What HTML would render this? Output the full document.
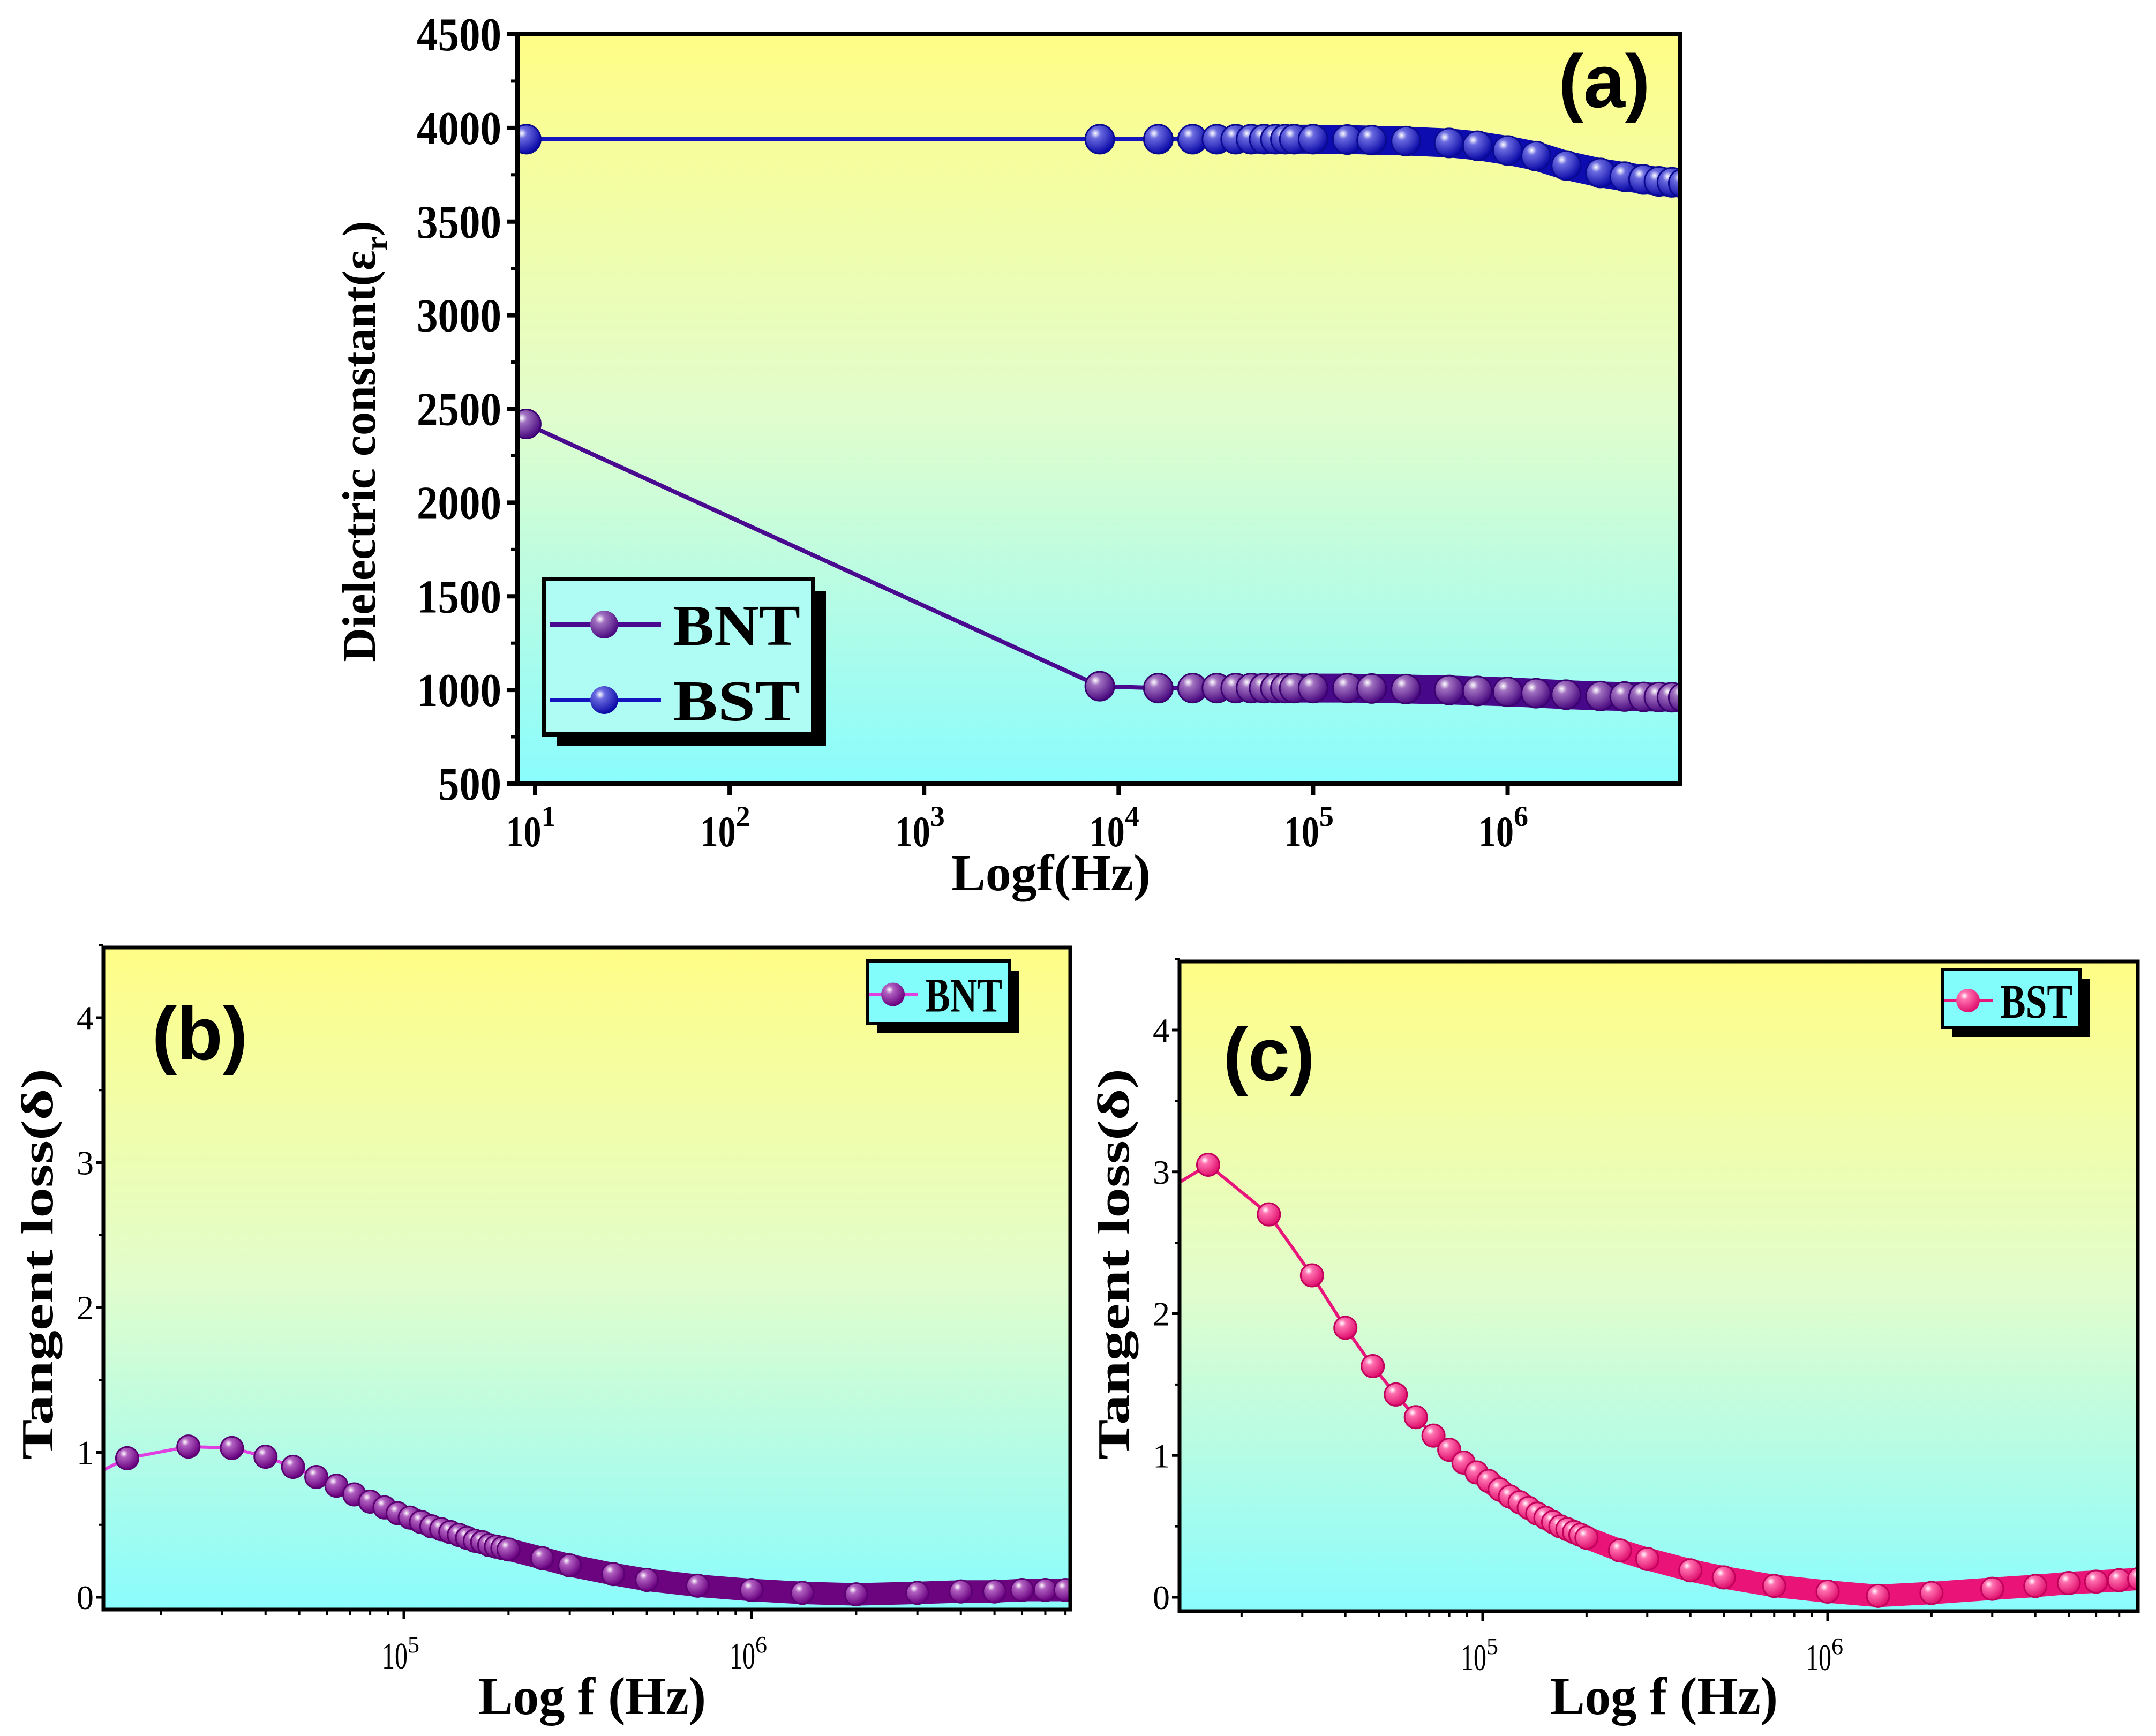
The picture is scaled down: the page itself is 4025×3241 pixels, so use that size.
<!DOCTYPE html>
<html><head><meta charset="utf-8"><style>
html,body{margin:0;padding:0;background:#fff}
svg{display:block}
text{font-family:"Liberation Serif",serif;font-weight:bold;fill:#000}
</style></head><body>
<svg id="fig" xmlns="http://www.w3.org/2000/svg" width="4025" height="3241" viewBox="0 0 4025 3241">
<defs>
<linearGradient id="bg" x1="0" y1="0" x2="0" y2="1">
<stop offset="0" stop-color="#fffd86"/><stop offset="0.5" stop-color="#e2fdcc"/><stop offset="1" stop-color="#8afcfd"/>
</linearGradient>
<radialGradient id="mPurple" cx="0.35" cy="0.3" r="0.7"><stop offset="0" stop-color="#ffffff"/><stop offset="0.25" stop-color="#a070c0"/><stop offset="1" stop-color="#4a0a80"/></radialGradient>
<radialGradient id="mBlue" cx="0.35" cy="0.3" r="0.7"><stop offset="0" stop-color="#ffffff"/><stop offset="0.25" stop-color="#6a6ae0"/><stop offset="1" stop-color="#0a0aa8"/></radialGradient>
<radialGradient id="mViolet" cx="0.35" cy="0.3" r="0.7"><stop offset="0" stop-color="#ffffff"/><stop offset="0.25" stop-color="#b060c0"/><stop offset="1" stop-color="#6a0080"/></radialGradient>
<radialGradient id="mPink" cx="0.35" cy="0.3" r="0.7"><stop offset="0" stop-color="#ffffff"/><stop offset="0.25" stop-color="#ff70b0"/><stop offset="1" stop-color="#e0106e"/></radialGradient>
<clipPath id="clipA"><rect x="966" y="64" width="2170" height="1399"/></clipPath>
<clipPath id="clipB"><rect x="193" y="1769" width="1805" height="1236"/></clipPath>
<clipPath id="clipC"><rect x="2202" y="1795" width="1789" height="1213"/></clipPath>
</defs>
</svg>
<script>
// ---- data ----
const freqA = [9, 8000, 16000, 24000, 32000, 40000, 48000, 56000, 64000, 72000, 80000, 100000, 150000, 200000, 300000, 500000, 700000, 1000000, 1400000, 2000000, 3000000, 4000000, 5000000, 6000000, 7000000, 8000000];
const bntA = [2420, 1020, 1010, 1010, 1010, 1010, 1010, 1010, 1010, 1010, 1010, 1010, 1010, 1008, 1005, 1000, 995, 990, 983, 975, 968, 965, 963, 962, 961, 960];
const bstA = [3940, 3940, 3940, 3940, 3940, 3940, 3940, 3940, 3940, 3940, 3940, 3940, 3938, 3935, 3930, 3920, 3905, 3880, 3850, 3800, 3760, 3740, 3725, 3715, 3710, 3705];
const freqBC = [8000, 16000, 24000, 32000, 40000, 48000, 56000, 64000, 72000, 80000, 88000, 96000, 104000, 112000, 120000, 128000, 136000, 144000, 152000, 160000, 168000, 176000, 184000, 192000, 200000, 250000, 300000, 400000, 500000, 700000, 1000000, 1400000, 2000000, 3000000, 4000000, 5000000, 6000000, 7000000, 8000000];
const bntLoss = [0.60, 0.96, 1.04, 1.03, 0.97, 0.90, 0.83, 0.77, 0.71, 0.66, 0.62, 0.58, 0.55, 0.52, 0.49, 0.47, 0.45, 0.43, 0.41, 0.39, 0.38, 0.36, 0.35, 0.34, 0.33, 0.27, 0.22, 0.16, 0.12, 0.08, 0.05, 0.03, 0.02, 0.03, 0.04, 0.04, 0.05, 0.05, 0.05];
const bstLoss = [2.60, 3.05, 2.70, 2.27, 1.90, 1.63, 1.43, 1.27, 1.14, 1.04, 0.95, 0.88, 0.82, 0.76, 0.71, 0.67, 0.63, 0.59, 0.56, 0.53, 0.50, 0.48, 0.46, 0.44, 0.42, 0.33, 0.27, 0.19, 0.14, 0.08, 0.04, 0.01, 0.03, 0.06, 0.08, 0.10, 0.11, 0.12, 0.13];
const yTicksA = [500, 1000, 1500, 2000, 2500, 3000, 3500, 4000, 4500];
const xDecA = [1, 2, 3, 4, 5, 6];
const yTicksBC = [0, 1, 2, 3, 4];
const xDecBC = [5, 6];

const NS = "http://www.w3.org/2000/svg";
const svg = document.getElementById('fig');
function mk(tag, attrs, parent, txt) {
  const e = document.createElementNS(NS, tag);
  for (const k in attrs) e.setAttribute(k, attrs[k]);
  if (txt !== undefined) e.textContent = txt;
  (parent || svg).appendChild(e);
  return e;
}
const xa = f => 999 + (Math.log10(f) - 1) * 363.1;
const ya = v => 1463 - (v - 500) * 0.34975;
const xb = f => 754 + (Math.log10(f) - 5) * 649;
const yb = v => 2982 - v * 270.5;
const xc = f => 2768 + (Math.log10(f) - 5) * 644;
const yc = v => 2982 - v * 264.75;

function series(g, freqs, vals, xf, yf, lineColor, lineW, grad, stroke, r, bandFrom, bandColor) {
  const pts = freqs.map((f, i) => xf(f).toFixed(1) + ',' + yf(vals[i]).toFixed(1)).join(' ');
  const ln = mk('polyline', {points: pts, fill: 'none', stroke: lineColor, 'stroke-width': lineW}, g);
  
  
  const bp = freqs.map((f, i) => f >= bandFrom ? xf(f).toFixed(1) + ',' + yf(vals[i]).toFixed(1) : null).filter(p => p).join(' ');
  const band = mk('polyline', {points: bp, fill: 'none', stroke: bandColor, 'stroke-width': 2 * r, 'stroke-linejoin': 'round', 'stroke-linecap': 'round'}, g);
  
  
  freqs.forEach((f, i) => {
    const c = mk('circle', {cx: xf(f), cy: yf(vals[i]), r: r, fill: 'url(#' + grad + ')', stroke: stroke, 'stroke-width': 3}, g);
    
    
  });
}

// ---- panel a ----
const ga = mk('g', {});


const bgA = mk('rect', {x: 966, y: 64, width: 2170, height: 1399, fill: 'url(#bg)'}, ga);


const sa = mk('g', {'clip-path': 'url(#clipA)'}, ga);
series(sa, freqA, bstA, xa, ya, '#1515c0', 8, 'mBlue', '#0a0a90', 27, 45000, '#0c0cb0');
series(sa, freqA, bntA, xa, ya, '#4a0a90', 8, 'mPurple', '#3a0070', 27, 45000, '#48088a');
mk('rect', {x: 966, y: 64, width: 2170, height: 1399, fill: 'none', stroke: '#000', 'stroke-width': 8}, ga);
yTicksA.forEach(v => {
  mk('line', {x1: 946, x2: 966, y1: ya(v), y2: ya(v), stroke: '#000', 'stroke-width': 8}, ga);
  if (v < 4500) mk('line', {x1: 954, x2: 966, y1: ya(v + 250), y2: ya(v + 250), stroke: '#000', 'stroke-width': 6}, ga);
  const t = mk('text', {x: 936, y: ya(v) + 30, 'text-anchor': 'end', 'font-size': 88, textLength: v < 1000 ? 118 : 158, lengthAdjust: 'spacingAndGlyphs'}, ga, String(v));
  
  
});
xDecA.forEach(d => {
  const x = xa(Math.pow(10, d));
  mk('line', {x1: x, x2: x, y1: 1463, y2: 1485, stroke: '#000', 'stroke-width': 8}, ga);
  const t = mk('text', {x: x - 8, y: 1580, 'text-anchor': 'middle', 'font-size': 82}, ga);
  
  
  mk('tspan', {textLength: 66, lengthAdjust: 'spacingAndGlyphs'}, t, '10');
  mk('tspan', {dy: -38, 'font-size': 54}, t, String(d));
});
const xta = mk('text', {x: 1962, y: 1662, 'text-anchor': 'middle', 'font-size': 96, textLength: 372, lengthAdjust: 'spacingAndGlyphs'}, ga, 'Logf(Hz)');


const yta = mk('text', {transform: 'translate(700,824) rotate(-90)', 'text-anchor': 'middle', 'font-size': 88}, ga);


mk('tspan', {}, yta, 'Dielectric constant(ε');
mk('tspan', {dy: 22, 'font-size': 58}, yta, 'r');
mk('tspan', {dy: -22}, yta, ')');
const la = mk('text', {x: 2995, y: 200, 'text-anchor': 'middle', 'font-size': 140, style: 'font-family:"Liberation Sans",sans-serif;font-weight:bold'}, ga, '(a)');


// legend a
const lga = mk('g', {}, ga);


mk('rect', {x: 1040, y: 1103, width: 502, height: 290, fill: '#000'}, lga);
mk('rect', {x: 1016, y: 1081, width: 502, height: 290, fill: '#aefcf4', stroke: '#000', 'stroke-width': 8}, lga);
[['BNT', 1166, '#4a0a90', 'mPurple'], ['BST', 1307, '#1515c0', 'mBlue']].forEach(e => {
  const ge = mk('g', {}, lga);
  
  
  mk('line', {x1: 1026, x2: 1234, y1: e[1], y2: e[1], stroke: e[2], 'stroke-width': 8}, ge);
  mk('circle', {cx: 1128, cy: e[1], r: 26, fill: 'url(#' + e[3] + ')'}, ge);
  mk('text', {x: 1256, y: e[1] + 38, 'font-size': 108, textLength: 238, lengthAdjust: 'spacingAndGlyphs'}, ge, e[0]);
});

// ---- panels b / c ----
function lossPanel(name, L, T, R, B, xf, yf, vals, lineColor, grad, stroke, bandColor, label, labX, labY, legBox, legName, legLine) {
  const g = mk('g', {});
  
  
  const bgr = mk('rect', {x: L, y: T, width: R - L, height: B - T, fill: 'url(#bg)'}, g);
  
  
  const s = mk('g', {'clip-path': 'url(#clip' + name.toUpperCase() + ')'}, g);
  series(s, freqBC, vals, xf, yf, lineColor, 6, grad, stroke, 21, 100000, bandColor);
  mk('rect', {x: L, y: T, width: R - L, height: B - T, fill: 'none', stroke: '#000', 'stroke-width': 7}, g);
  yTicksBC.forEach(v => {
    mk('line', {x1: L - 14, x2: L, y1: yf(v), y2: yf(v), stroke: '#000', 'stroke-width': 5}, g);
    mk('line', {x1: L - 8, x2: L, y1: yf(v + 0.5), y2: yf(v + 0.5), stroke: '#000', 'stroke-width': 4}, g);
    const t = mk('text', {x: L - 18, y: yf(v) + 22, 'text-anchor': 'end', 'font-size': 64, style: 'font-weight:normal'}, g, String(v));
    
    
  });
  for (let d = 4; d <= 6; d++) for (let m = 1; m <= 9; m++) {
    const x = xf(m * Math.pow(10, d));
    if (x < L || x > R) continue;
    mk('line', {x1: x, x2: x, y1: B, y2: B + (m === 1 ? 18 : 10), stroke: '#000', 'stroke-width': m === 1 ? 5 : 4}, g);
  }
  xDecBC.forEach(d => {
    const x = xf(Math.pow(10, d));
    const t = mk('text', {x: x - 6, y: B + 110, 'text-anchor': 'middle', 'font-size': 70, style: 'font-weight:normal'}, g);
    
    
    mk('tspan', {textLength: 48, lengthAdjust: 'spacingAndGlyphs'}, t, '10');
    mk('tspan', {dy: -30, 'font-size': 44}, t, String(d));
  });
  const xt = mk('text', {x: (L + R) / 2 + 10, y: 3200, 'text-anchor': 'middle', 'font-size': 100, textLength: 425, lengthAdjust: 'spacingAndGlyphs'}, g, 'Log f (Hz)');
  
  
  const yt = mk('text', {transform: 'translate(' + (L - 95) + ',' + 2360 + ') rotate(-90)', 'text-anchor': 'middle', 'font-size': 84, textLength: 730, lengthAdjust: 'spacingAndGlyphs'}, g, 'Tangent loss(δ)');
  
  
  const lb = mk('text', {x: labX, y: labY, 'text-anchor': 'middle', 'font-size': 140, style: 'font-family:"Liberation Sans",sans-serif;font-weight:bold'}, g, label);
  
  
  const lg = mk('g', {}, g);
  
  
  const [x0, y0, w, h] = legBox;
  mk('rect', {x: x0 + 18, y: y0 + 18, width: w, height: h, fill: '#000'}, lg);
  mk('rect', {x: x0, y: y0, width: w, height: h, fill: '#82fdfb', stroke: '#000', 'stroke-width': 6}, lg);
  const cy = y0 + h / 2 + 4;
  mk('line', {x1: x0 + 4, x2: x0 + 95, y1: cy, y2: cy, stroke: legLine, 'stroke-width': 6}, lg);
  mk('circle', {cx: x0 + 48, cy: cy, r: 22, fill: 'url(#' + grad + ')'}, lg);
  mk('text', {x: x0 + 108, y: cy + 32, 'font-size': 90, textLength: w - 122, lengthAdjust: 'spacingAndGlyphs'}, lg, legName);
}
lossPanel('b', 193, 1769, 1998, 3005, xb, yb, bntLoss, '#e040e0', 'mViolet', '#5a0070', '#6c0480', '(b)', 373, 1978, [1619, 1794, 266, 117], 'BNT', '#e040e0');
lossPanel('c', 2202, 1795, 3991, 3008, xc, yc, bstLoss, '#e8157a', 'mPink', '#c0005a', '#ea1478', '(c)', 2369, 2017, [3626, 1810, 257, 108], 'BST', '#e8157a');
</script>
</body></html>
